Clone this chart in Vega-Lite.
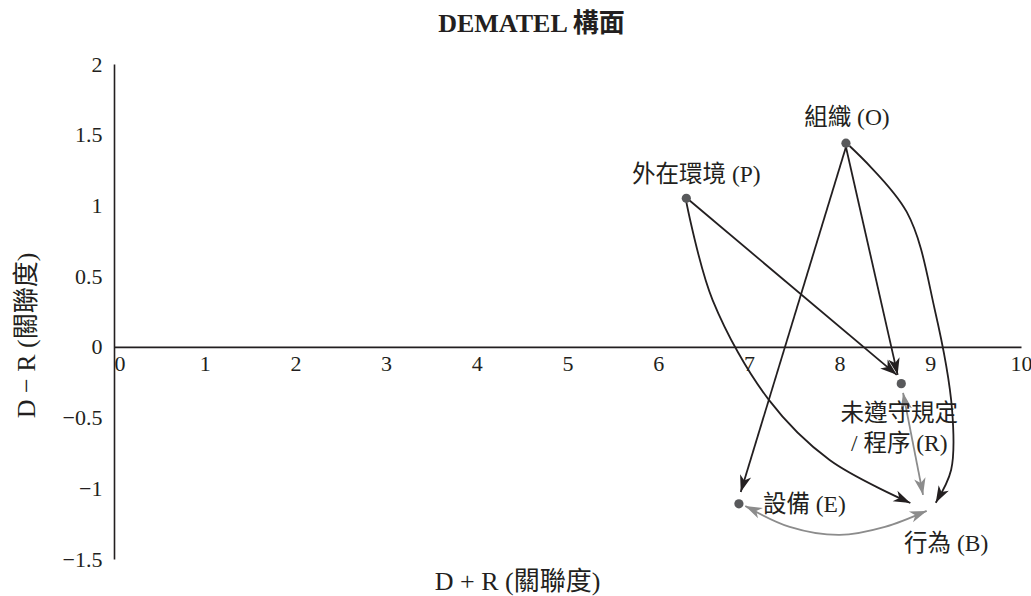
{
  "$schema": "https://vega.github.io/schema/vega-lite/v6.json",
  "width": 907,
  "height": 495,
  "autosize": {"type": "none"},
  "padding": {"left": 114, "top": 64, "right": 10, "bottom": 37},
  "background": "white",
  "config": {
    "view": {"stroke": null},
    "axis": {"grid": false, "ticks": false, "domainColor": "#231f20", "domainWidth": 1.6, "labelColor": "#231f20", "titleColor": "#231f20"}
  },
  "title": {
    "text": "DEMATEL 構面",
    "font": "Liberation Serif, Noto Sans CJK TC",
    "fontSize": 26,
    "fontWeight": "bold",
    "color": "#231f20",
    "anchor": "middle",
    "frame": "group",
    "dx": -36,
    "offset": 16
  },
  "datasets": {
    "nodes": [
      {"id": "O", "label": "組織 (O)", "x": 8.07, "y": 1.44},
      {"id": "P", "label": "外在環境 (P)", "x": 6.31, "y": 1.05},
      {"id": "R", "label": "未遵守規定\n/ 程序 (R)", "x": 8.68, "y": -0.26},
      {"id": "E", "label": "設備 (E)", "x": 6.89, "y": -1.11},
      {"id": "B", "label": "行為 (B)", "x": 8.91, "y": -1.12}
    ],
    "paths": [
      {"edge": "O-E", "type": "one", "ord": 0, "x": 8.07, "y": 1.413},
      {"edge": "O-E", "type": "one", "ord": 1, "x": 6.91, "y": -1.026},
      {"edge": "O-R", "type": "one", "ord": 0, "x": 8.07, "y": 1.413},
      {"edge": "O-R", "type": "one", "ord": 1, "x": 8.64, "y": -0.198},
      {"edge": "O-B", "type": "one", "ord": 0, "x": 8.11, "y": 1.42},
      {"edge": "O-B", "type": "one", "ord": 1, "x": 8.74, "y": 0.954},
      {"edge": "O-B", "type": "one", "ord": 2, "x": 9.05, "y": 0.261},
      {"edge": "O-B", "type": "one", "ord": 3, "x": 9.24, "y": -0.445},
      {"edge": "O-B", "type": "one", "ord": 4, "x": 9.23, "y": -0.869},
      {"edge": "O-B", "type": "one", "ord": 5, "x": 9.06, "y": -1.102},
      {"edge": "P-R", "type": "one", "ord": 0, "x": 6.34, "y": 1.038},
      {"edge": "P-R", "type": "one", "ord": 1, "x": 8.63, "y": -0.198},
      {"edge": "P-B", "type": "one", "ord": 0, "x": 6.31, "y": 1.024},
      {"edge": "P-B", "type": "one", "ord": 1, "x": 6.6, "y": 0.331},
      {"edge": "P-B", "type": "one", "ord": 2, "x": 7.22, "y": -0.375},
      {"edge": "P-B", "type": "one", "ord": 3, "x": 7.89, "y": -0.8},
      {"edge": "P-B", "type": "one", "ord": 4, "x": 8.78, "y": -1.104},
      {"edge": "R-B", "type": "two", "ord": 0, "x": 8.7, "y": -0.325},
      {"edge": "R-B", "type": "two", "ord": 1, "x": 8.92, "y": -1.047},
      {"edge": "E-B", "type": "two", "ord": 0, "x": 6.96, "y": -1.125},
      {"edge": "E-B", "type": "two", "ord": 1, "x": 7.45, "y": -1.273},
      {"edge": "E-B", "type": "two", "ord": 2, "x": 8.0, "y": -1.33},
      {"edge": "E-B", "type": "two", "ord": 3, "x": 8.5, "y": -1.273},
      {"edge": "E-B", "type": "two", "ord": 4, "x": 8.96, "y": -1.16}
    ],
    "heads": [
      {"edge": "O-E", "type": "one", "x": 6.91, "y": -1.026, "bx": 8.07, "by": 1.413},
      {"edge": "O-R", "type": "one", "x": 8.64, "y": -0.198, "bx": 8.07, "by": 1.413},
      {"edge": "P-R", "type": "one", "x": 8.63, "y": -0.198, "bx": 6.34, "by": 1.038},
      {"edge": "O-B", "type": "one", "x": 9.06, "y": -1.102, "bx": 9.23, "by": -0.9},
      {"edge": "P-B", "type": "one", "x": 8.78, "y": -1.104, "bx": 8.34, "by": -0.976},
      {"edge": "R-B", "type": "two", "x": 8.92, "y": -1.047, "bx": 8.7, "by": -0.325},
      {"edge": "R-B", "type": "two", "x": 8.7, "y": -0.325, "bx": 8.92, "by": -1.047},
      {"edge": "E-B", "type": "two", "x": 8.96, "y": -1.16, "bx": 8.5, "by": -1.273},
      {"edge": "E-B", "type": "two", "x": 6.96, "y": -1.125, "bx": 7.45, "by": -1.273}
    ]
  },
  "encoding": {
    "x": {
      "field": "x", "type": "quantitative",
      "scale": {"domain": [0, 10], "nice": false, "zero": false},
      "axis": {
        "title": "D + R (關聯度)",
        "orient": "bottom",
        "offset": -212.14,
        "values": [0, 1, 2, 3, 4, 5, 6, 7, 8, 9, 10],
        "format": "~f",
        "labelFont": "Liberation Serif",
        "labelFontSize": 22,
        "labelPadding": 7,
        "labelBaseline": "top",
        "labelAlign": {"condition": {"test": "datum.value == 0", "value": "left"}, "value": "center"},
        "titleFont": "Liberation Serif, Noto Sans CJK TC",
        "titleFontSize": 26,
        "titleFontWeight": "normal",
        "titleX": 403,
        "titleY": 235,
        "titleAlign": "center",
        "titleBaseline": "middle"
      }
    },
    "y": {
      "field": "y", "type": "quantitative",
      "scale": {"domain": [-1.5, 2], "nice": false, "zero": false},
      "axis": {
        "title": "D − R (關聯度)",
        "values": [-1.5, -1, -0.5, 0, 0.5, 1, 1.5, 2],
        "format": "~f",
        "labelFont": "Liberation Serif",
        "labelFontSize": 22,
        "labelPadding": 12,
        "titleFont": "Liberation Serif, Noto Sans CJK TC",
        "titleFontSize": 26,
        "titleFontWeight": "normal",
        "titleX": -88,
        "titleY": 271,
        "titleAlign": "center",
        "titleBaseline": "middle"
      }
    }
  },
  "layer": [
    {
      "data": {"name": "paths"},
      "mark": {"type": "line", "interpolate": "catmull-rom", "strokeWidth": 1.8},
      "encoding": {
        "detail": {"field": "edge"},
        "order": {"field": "ord", "type": "quantitative"},
        "color": {"field": "type", "type": "nominal", "scale": {"domain": ["one", "two"], "range": ["#231f20", "#8c8c8c"]}, "legend": null}
      }
    },
    {
      "data": {"name": "heads"},
      "transform": [
        {"calculate": "atan2((datum.x - datum.bx) * 90.7, (datum.y - datum.by) * 141.43) * 180 / PI", "as": "angle"}
      ],
      "mark": {"type": "point", "filled": true, "opacity": 1, "size": 441, "shape": "M0,0 L0.55,1.6 L0,1.15 L-0.55,1.6 Z"},
      "encoding": {
        "angle": {"field": "angle", "type": "quantitative", "scale": null},
        "color": {"field": "type", "type": "nominal", "scale": {"domain": ["one", "two"], "range": ["#231f20", "#8c8c8c"]}, "legend": null}
      }
    },
    {
      "data": {"name": "nodes"},
      "transform": [{"filter": "datum.id != 'B'"}],
      "mark": {"type": "point", "filled": true, "opacity": 1, "size": 85, "color": "#58595b", "shape": "circle"}
    },
    {
      "data": {"name": "nodes"},
      "transform": [{"filter": "datum.id == 'O'"}],
      "mark": {"type": "text", "font": "Liberation Serif, Noto Sans CJK TC", "fontSize": 23.5, "color": "#231f20", "align": "center", "baseline": "middle", "dx": 1, "dy": -25},
      "encoding": {"text": {"field": "label"}}
    },
    {
      "data": {"name": "nodes"},
      "transform": [{"filter": "datum.id == 'P'"}],
      "mark": {"type": "text", "font": "Liberation Serif, Noto Sans CJK TC", "fontSize": 23.5, "color": "#231f20", "align": "center", "baseline": "middle", "dx": 10, "dy": -23},
      "encoding": {"text": {"field": "label"}}
    },
    {
      "data": {"name": "nodes"},
      "transform": [{"filter": "datum.id == 'R'"}],
      "mark": {"type": "text", "font": "Liberation Serif, Noto Sans CJK TC", "fontSize": 23.5, "color": "#231f20", "align": "center", "baseline": "middle", "dx": -2, "dy": 30, "lineBreak": "\n", "lineHeight": 30},
      "encoding": {"text": {"field": "label"}}
    },
    {
      "data": {"name": "nodes"},
      "transform": [{"filter": "datum.id == 'E'"}],
      "mark": {"type": "text", "font": "Liberation Serif, Noto Sans CJK TC", "fontSize": 23.5, "color": "#231f20", "align": "left", "baseline": "middle", "dx": 24, "dy": 1},
      "encoding": {"text": {"field": "label"}}
    },
    {
      "data": {"name": "nodes"},
      "transform": [{"filter": "datum.id == 'B'"}],
      "mark": {"type": "text", "font": "Liberation Serif, Noto Sans CJK TC", "fontSize": 23.5, "color": "#231f20", "align": "center", "baseline": "middle", "dx": 24, "dy": 39},
      "encoding": {"text": {"field": "label"}}
    }
  ]
}
